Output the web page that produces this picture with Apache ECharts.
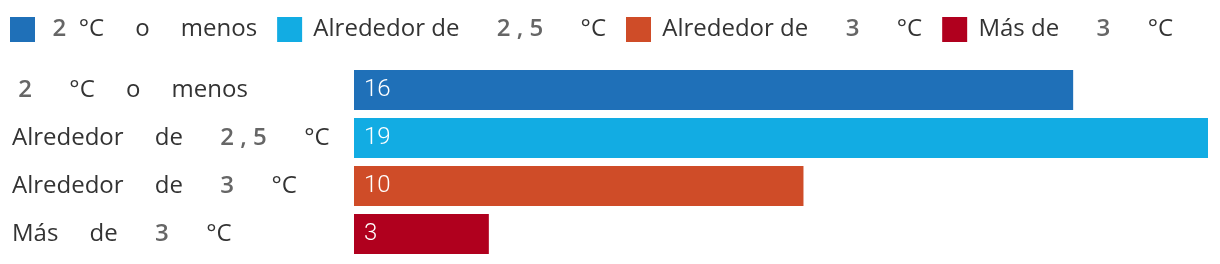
<!DOCTYPE html>
<html><head><meta charset="utf-8">
<script src="https://cdn.jsdelivr.net/npm/echarts@6/dist/echarts.min.js"></script>
<style>html,body{margin:0;padding:0;background:#fff}#c{width:1220px;height:264px}</style>
</head><body><div id="c"></div>
<script>
const categories = ['2 °C o menos', 'Alrededor de 2,5 °C', 'Alrededor de 3 °C', 'Más de 3 °C'];
const values = [16, 19, 10, 3];
const colors = ['#1f70b8', '#12ace3', '#cf4c28', '#b0001e'];
const tickLabels = [
  ' {n|2}      °C     o     menos',
  'Alrededor     de      {n|2 , 5}      °C',
  'Alrededor     de      {n|3}      °C',
  'Más     de      {n|3}      °C'
];
const legendLabels = [
  '  {n|2}  °C     o     menos',
  ' Alrededor de      {n|2 , 5}      °C',
  ' Alrededor de      {n|3}      °C',
  ' Más de      {n|3}      °C'
];

const FONT = 'Open Sans';
const digitStyle = { fontFamily: FONT, fontWeight: 600, color: '#666', fontSize: 24 };

const series = categories.map((name, i) => ({
  name: name,
  type: 'bar',
  stack: 'all',
  barWidth: 40,
  itemStyle: { color: colors[i] },
  label: {
    show: true, position: 'insideLeft', distance: 10,
    color: '#fff', fontFamily: 'Roboto', fontWeight: 300, fontSize: 24
  },
  data: categories.map((c, j) => j === i ? values[i] : '-')
}));

const chart = echarts.init(document.getElementById('c'), null, { renderer: 'canvas' });
chart.setOption({
  animation: false,
  legend: {
    left: 5, top: 12, itemWidth: 25, itemHeight: 25, itemGap: 20,
    icon: 'rect',
    data: categories,
    formatter: name => legendLabels[categories.indexOf(name)],
    textStyle: { fontFamily: FONT, fontSize: 24, color: '#333', rich: { n: digitStyle } }
  },
  grid: { left: 354, right: 12, top: 66, bottom: 6, containLabel: false },
  xAxis: { type: 'value', min: 0, max: 19, show: false },
  yAxis: {
    type: 'category', inverse: true, data: categories,
    axisLine: { show: false }, axisTick: { show: false },
    axisLabel: {
      align: 'left', margin: 342,
      fontFamily: FONT, fontSize: 24, color: '#333',
      formatter: (v, i) => tickLabels[i],
      rich: { n: digitStyle }
    }
  },
  series: series
});
</script></body></html>
